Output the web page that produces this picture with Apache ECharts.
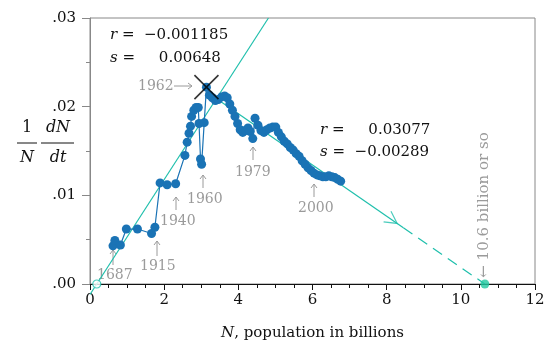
<!DOCTYPE html>
<html><head><meta charset="utf-8">
<script src="https://cdn.jsdelivr.net/npm/echarts@6/dist/echarts.min.js"></script>
<style>html,body{margin:0;padding:0;background:#fff}#c{width:550px;height:354px}</style>
</head><body><div id="c"></div>
<script>
// Population N (billions) and growth rate (1/N dN/dt), read in time order
const popN = [0.62,0.67,0.82,0.98,1.28,1.66,1.75,1.89,2.08,2.31,2.56,
  2.62,2.67,2.71,2.74,2.80,2.86,2.92,2.94,2.98,3.01,3.08,3.14,
  3.22,3.30,3.38,3.46,3.55,3.63,3.70,3.77,3.84,3.91,3.98,4.05,4.12,4.19,4.26,4.32,4.39,
  4.45,4.53,4.61,4.69,4.77,4.85,4.93,5.01,5.08,5.16,5.24,5.32,5.40,5.48,5.56,5.64,5.72,
  5.80,5.88,5.96,6.04,6.12,6.20,6.28,6.36,6.44,6.52,6.60,6.68,6.76];
const growth = [0.0043,0.0049,0.0044,0.0062,0.0062,0.0057,0.0064,0.0114,0.0112,0.0113,0.0145,
  0.0160,0.0170,0.0178,0.0189,0.0196,0.0199,0.0199,0.0181,0.0141,0.0135,0.0182,0.0222,
  0.0213,0.0210,0.0207,0.0208,0.0211,0.0212,0.0210,0.0203,0.0196,0.0189,0.0181,0.0174,0.0171,0.0173,0.0176,0.0172,0.0164,
  0.0187,0.0179,0.0173,0.0171,0.0174,0.0176,0.0177,0.0177,0.0171,0.0166,0.0161,0.0158,0.0154,0.0151,0.0147,0.0144,0.0139,
  0.0135,0.0131,0.0128,0.0125,0.0123,0.0122,0.0121,0.0121,0.0122,0.0121,0.0120,0.0118,0.0116];
// Fitted lines y = r + s*N
const fit1 = {r: -0.001185, s: 0.00648};
const fit2 = {r: 0.03077, s: -0.00289};
const fit1Range = [0, 4.812];          // from N=0 to top of the axis
const fit2Solid = [3.2, 8.45];
const fit2Dashed = [8.45, 10.647];
const fit2Arrow = 8.15;
const peak = [3.14, 0.0222];           // 1962
const xTicks = [0, 2, 4, 6, 8, 10, 12];
const yTicks = [0, 0.01, 0.02, 0.03];
const yearLabels = ['1687', '1915', '1940', '1960', '1979', '2000'];

const f1 = n => fit1.r + fit1.s * n;
const f2 = n => fit2.r + fit2.s * n;
const teal = '#1fbfac';
const blue = '#1a73b5';
const grey = '#9a9a9a';
const FONT = 'DejaVu Serif';

// annotation layout (pixels): label left, label centre y, arrow x, arrow bottom, arrow top
const yearPos = [
  [97, 275, 113, 265, 250],
  [140, 266, 157, 256, 241],
  [160, 221, 176, 210, 197],
  [187, 199, 203, 188, 175],
  [235, 172, 253, 160, 147],
  [298, 208, 314, 197, 184]
];
const g = [];
yearLabels.forEach((t, i) => {
  const [lx, ly, ax, ab, at] = yearPos[i];
  g.push({type: 'text', x: lx, y: ly, style: {text: t, font: '14px ' + FONT, fill: grey, verticalAlign: 'middle'}});
  g.push({type: 'line', shape: {x1: ax, y1: ab, x2: ax, y2: at}, style: {stroke: grey, lineWidth: 1}});
  g.push({type: 'polyline', shape: {points: [[ax - 3, at + 4], [ax, at], [ax + 3, at + 4]]}, style: {stroke: grey, lineWidth: 1, fill: null}});
});
// 1962 →
g.push({type: 'text', x: 138, y: 86, style: {text: '1962', font: '14px ' + FONT, fill: grey, verticalAlign: 'middle'}});
g.push({type: 'line', shape: {x1: 174, y1: 86, x2: 192, y2: 86}, style: {stroke: grey, lineWidth: 1}});
g.push({type: 'polyline', shape: {points: [[188, 83], [192, 86], [188, 89]]}, style: {stroke: grey, lineWidth: 1, fill: null}});
// vertical note
g.push({type: 'text', x: 484, y: 205, rotation: Math.PI / 2,
  style: {text: '← 10.6 billion or so', font: '15px ' + FONT, fill: grey, align: 'center', verticalAlign: 'middle'}});
// y-axis title (1/N)(dN/dt)
const ts = '16px ' + FONT, tsi = 'italic 16px ' + FONT;
g.push({type: 'text', x: 27, y: 128, style: {text: '1', font: ts, fill: '#111', align: 'center', verticalAlign: 'middle'}});
g.push({type: 'line', shape: {x1: 17, y1: 143, x2: 37, y2: 143}, style: {stroke: '#111', lineWidth: 1}});
g.push({type: 'text', x: 27, y: 158, style: {text: 'N', font: tsi, fill: '#111', align: 'center', verticalAlign: 'middle'}});
g.push({type: 'text', x: 58, y: 128, style: {text: 'dN', font: tsi, fill: '#111', align: 'center', verticalAlign: 'middle'}});
g.push({type: 'line', shape: {x1: 41, y1: 143, x2: 74, y2: 143}, style: {stroke: '#111', lineWidth: 1}});
g.push({type: 'text', x: 58, y: 158, style: {text: 'dt', font: tsi, fill: '#111', align: 'center', verticalAlign: 'middle'}});
// fit parameters
const pf = '15px ' + FONT, pfi = 'italic 15px ' + FONT;
[[110, 35, '{i|r} =  −0.001185'], [110, 58, '{i|s} =     0.00648'],
 [320, 130, '{i|r} =     0.03077'], [320, 152, '{i|s} =  −0.00289']].forEach(([x, y, t]) => {
  g.push({type: 'text', x: x, y: y, style: {text: t, font: pf, fill: '#111', verticalAlign: 'middle', rich: {i: {font: pfi, fill: '#111'}}}});
});

const chart = echarts.init(document.getElementById('c'));
chart.setOption({
  animation: false,
  grid: {left: 90, right: 15, top: 18, bottom: 70, show: true, borderColor: '#888', borderWidth: 1},
  xAxis: {
    type: 'value', min: xTicks[0], max: xTicks[xTicks.length-1], interval: 2,
    axisLine: {lineStyle: {color: '#111', width: 1}},
    axisTick: {length: 6, lineStyle: {color: '#111'}},
    minorTick: {show: true, splitNumber: 4, length: 4, lineStyle: {color: '#111'}},
    splitLine: {show: false},
    axisLabel: {fontFamily: FONT, fontSize: 15, color: '#111', margin: 9},
    name: '{i|N}, population in billions', nameLocation: 'middle', nameGap: 42,
    nameTextStyle: {fontFamily: FONT, fontSize: 15, color: '#111', rich: {i: {fontFamily: FONT, fontSize: 15, fontStyle: 'italic', color: '#111'}}}
  },
  yAxis: {
    type: 'value', min: yTicks[0], max: yTicks[yTicks.length-1], interval: 0.01,
    axisLine: {show: true, lineStyle: {color: '#888', width: 1}},
    axisTick: {length: 8, lineStyle: {color: '#888'}},
    minorTick: {show: true, splitNumber: 2, length: 4, lineStyle: {color: '#888'}},
    splitLine: {show: false},
    axisLabel: {fontFamily: FONT, fontSize: 15, color: '#111', margin: 14,
      formatter: v => v.toFixed(2).replace(/^0/, '')}
  },
  series: [
    {type: 'line', data: fit1Range.map(n => [n, f1(n)]), showSymbol: false, clip: false,
      lineStyle: {color: teal, width: 1.2}, z: 2, silent: true},
    {type: 'line', data: fit2Solid.map(n => [n, f2(n)]), showSymbol: false,
      lineStyle: {color: teal, width: 1.2}, z: 2},
    {type: 'line', data: fit2Dashed.map(n => [n, f2(n)]), showSymbol: false,
      lineStyle: {color: teal, width: 1.2, type: [11, 7]}, z: 2},
    {type: 'scatter', data: [[fit2Arrow, f2(fit2Arrow)]], symbol: 'path://M0,0L10,5L0,10',
      symbolSize: [12, 13], symbolRotate: -34.5,
      itemStyle: {color: 'none', borderColor: teal, borderWidth: 1.2}, z: 3},
    {type: 'line', data: popN.map((n, i) => [n, growth[i]]), symbol: 'circle', symbolSize: 9,
      itemStyle: {color: blue}, lineStyle: {color: blue, width: 1.2}, z: 4},
    {type: 'scatter', data: [peak], symbol: 'path://M0,0L10,10M10,0L0,10', symbolSize: 24,
      itemStyle: {color: 'none', borderColor: '#000', borderWidth: 1.6}, z: 5},
    {type: 'scatter', data: [[-fit1.r / fit1.s, 0]], symbol: 'circle', symbolSize: 8,
      itemStyle: {color: '#fff', borderColor: teal, borderWidth: 1.2}, z: 5},
    {type: 'scatter', data: [[-fit2.r / fit2.s, 0]], symbol: 'circle', symbolSize: 9,
      itemStyle: {color: '#1fc9a0'}, z: 5}
  ],
  graphic: g
});
</script></body></html>
